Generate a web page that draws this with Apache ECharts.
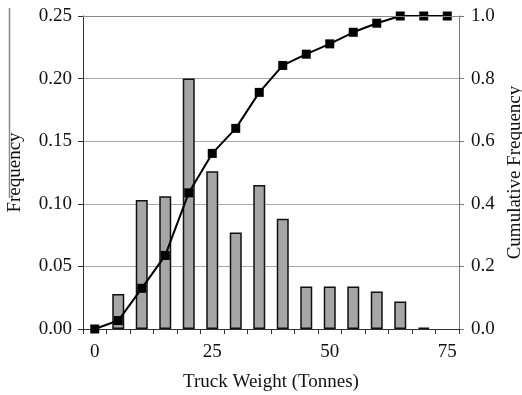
<!DOCTYPE html>
<html>
<head>
<meta charset="utf-8">
<script src="https://cdn.jsdelivr.net/npm/echarts@6/dist/echarts.min.js"></script>
<style>
  html, body { margin: 0; padding: 0; background: #fff; }
  #chart { width: 522px; height: 395px; }
</style>
</head>
<body>
<div id="chart"></div>
<script>
// Truck weight bins (tonnes)
const weightBins = ['0', '5', '10', '15', '20', '25', '30', '35', '40', '45', '50', '55', '60', '65', '70', '75'];
// Relative frequency of each bin
const frequency = [null, 0.028, 0.103, 0.106, 0.200, 0.126, 0.077, 0.115, 0.088, 0.034, 0.034, 0.034, 0.030, 0.022, 0.001, null];
// Cumulative frequency
const cumulative = [0, 0.027, 0.130, 0.235, 0.435, 0.561, 0.641, 0.756, 0.842, 0.878, 0.911, 0.948, 0.977, 1.0, 1.0, 1.0];

const FONT = '"Liberation Serif", "Times New Roman", serif';
const textStyle = { fontFamily: FONT, fontSize: 19, color: '#111' };

const chart = echarts.init(document.getElementById('chart'), null, { renderer: 'canvas' });

chart.setOption({
  animation: false,
  backgroundColor: '#fff',
  grid: { left: 83, right: 63, top: 16, bottom: 66, containLabel: false, outerBoundsMode: 'none' },
  xAxis: {
    type: 'category',
    data: weightBins,
    boundaryGap: true,
    name: 'Truck Weight (Tonnes)',
    nameLocation: 'middle',
    nameGap: 44,
    nameTextStyle: textStyle,
    axisLine: { show: true, lineStyle: { color: '#333', width: 1 } },
    axisTick: { show: true, interval: 0, length: 5, inside: false, lineStyle: { color: '#333' } },
    axisLabel: Object.assign({ interval: 4, margin: 14 }, textStyle),
    splitLine: { show: false }
  },
  yAxis: [
    {
      type: 'value',
      min: 0, max: 0.25, interval: 0.05,
      name: 'Frequency',
      nameLocation: 'middle',
      nameRotate: 90,
      nameGap: 58,
      nameTextStyle: textStyle,
      axisLine: { show: true, lineStyle: { color: '#333', width: 1 } },
      axisTick: { show: true, length: 5, lineStyle: { color: '#333' } },
      axisLabel: Object.assign({ margin: 11, formatter: v => v.toFixed(2) }, textStyle),
      splitLine: { show: true, lineStyle: { color: '#a8a8a8', width: 1 } }
    },
    {
      type: 'value',
      position: 'right',
      min: 0, max: 1.0, interval: 0.2,
      name: 'Cumulative Frequency',
      nameLocation: 'middle',
      nameRotate: 90,
      nameGap: 45,
      nameTextStyle: textStyle,
      axisLine: { show: true, lineStyle: { color: '#777', width: 1 } },
      axisTick: { show: true, length: 5, lineStyle: { color: '#777' } },
      axisLabel: Object.assign({ margin: 12, formatter: v => v.toFixed(1) }, textStyle),
      splitLine: { show: false }
    }
  ],
  series: [
    {
      name: 'Frequency',
      type: 'bar',
      yAxisIndex: 0,
      data: frequency,
      barWidth: 12,
      itemStyle: { color: '#a6a6a6', borderColor: '#111', borderWidth: 1.5 }
    },
    {
      name: 'Cumulative Frequency',
      type: 'line',
      yAxisIndex: 1,
      data: cumulative,
      symbol: 'rect',
      symbolSize: 9,
      lineStyle: { color: '#000', width: 2 },
      itemStyle: { color: '#000' },
      z: 5
    }
  ],
  graphic: [
    {
      type: 'line',
      shape: { x1: 9.5, y1: 8, x2: 9.5, y2: 198 },
      style: { stroke: '#888', lineWidth: 1.5 }
    },
    {
      type: 'line',
      shape: { x1: 83, y1: 16.5, x2: 459, y2: 16.5 },
      style: { stroke: '#888', lineWidth: 1 },
      z: 10
    }
  ]
});
</script>
</body>
</html>
